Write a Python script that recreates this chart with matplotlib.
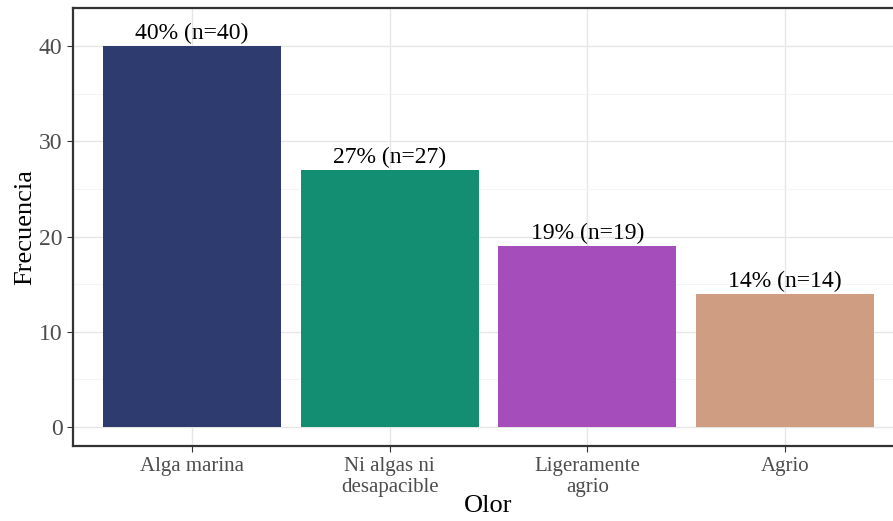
import matplotlib.pyplot as plt
from matplotlib.ticker import MultipleLocator

categorias = ["Alga marina", "Ni algas ni\ndesapacible", "Ligeramente\nagrio", "Agrio"]
frecuencia = [40, 27, 19, 14]
porcentaje = [40, 27, 19, 14]
colores = ["#2E3B6F", "#148E73", "#A54DBA", "#CE9D82"]

plt.rcParams['font.family'] = ['Liberation Serif', 'DejaVu Serif']

fig = plt.figure(figsize=(8.93, 5.21), dpi=100)
ax = fig.add_axes([73 / 893, 75 / 521, 831 / 893, 438 / 521])

x = list(range(1, len(categorias) + 1))
ax.bar(x, frecuencia, width=0.9, color=colores, zorder=2)

# etiquetas encima de cada barra
for xi, f, p in zip(x, frecuencia, porcentaje):
    ax.text(xi, f + 0.2, f"{p}% (n={f})", ha="center", va="bottom", fontsize=17, color="black")

ax.set_xlim(0.4, 4.6)
ax.set_ylim(-2, 44)
ax.set_xticks(x)
ax.set_xticklabels(categorias, linespacing=1.12)
ax.yaxis.set_major_locator(MultipleLocator(10))
ax.yaxis.set_minor_locator(MultipleLocator(5))

ax.grid(which="major", color="#E6E6E6", linewidth=1.0, zorder=0)
ax.grid(which="minor", axis="y", color="#F2F2F2", linewidth=0.6, zorder=0)
ax.set_axisbelow(True)

for s in ax.spines.values():
    s.set_color("#333333")
    s.set_linewidth(1.6)

ax.tick_params(axis="y", which="major", labelsize=17, labelcolor="#4D4D4D", color="#333333", length=4)
ax.tick_params(axis="x", which="major", labelsize=15, labelcolor="#4D4D4D", color="#333333", length=4, pad=4)
ax.tick_params(which="minor", length=0)

ax.set_xlabel("Olor", fontsize=19, labelpad=-1)
ax.set_ylabel("Frecuencia", fontsize=19, labelpad=2)

fig.savefig("out.png", dpi=100)
